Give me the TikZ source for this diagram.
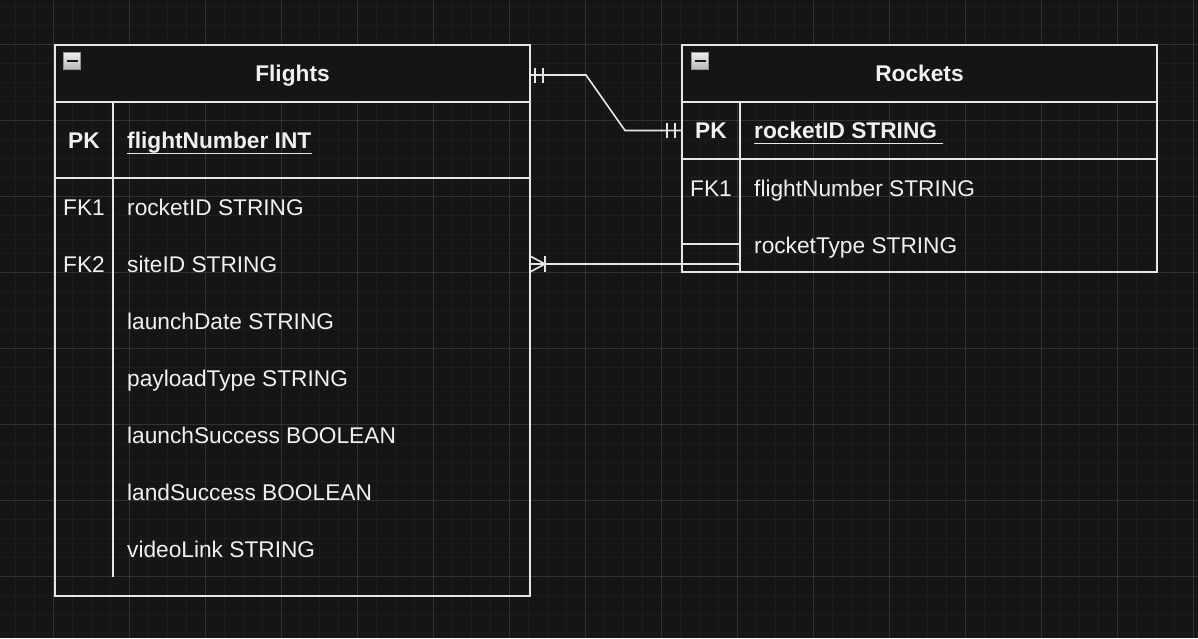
\documentclass[tikz,border=0pt]{standalone}
\usepackage{fontspec}
\setmainfont{Liberation Sans}
\definecolor{bg}{HTML}{151515}
\definecolor{minorg}{HTML}{1D1D1D}
\definecolor{majorg}{HTML}{333333}
\definecolor{ln}{HTML}{E6E6E6}
\definecolor{tx}{HTML}{F0F0F0}
\definecolor{iconb}{HTML}{8A96A6}
\begin{document}
\begin{tikzpicture}[x=1pt,y=-1pt,
  tbl/.style={draw=ln, line width=1.6pt, anchor=north west, inner sep=0pt, outer sep=0pt, rectangle},
  hdr/.style={fill=bg, anchor=north west, inner sep=0pt, outer sep=0pt, minimum width=475pt, minimum height=57pt},
  txt/.style={text=tx, font=\fontsize{22.7}{27}\selectfont, inner sep=0pt, anchor=base west},
  btxt/.style={txt, font=\fontsize{22.7}{27}\selectfont\bfseries},
  key/.style={txt, anchor=base},
  bkey/.style={btxt, anchor=base},
  rule/.style={draw=ln, line width=1.6pt},
  conn/.style={draw=ln, line width=1.6pt},
  icon/.style={draw=iconb, line width=1pt, top color=white!93!black, bottom color=black!28, minimum size=17.5pt, inner sep=0pt},
  iconbar/.style={draw=black!90, line width=2pt},
]
\useasboundingbox (0,0) rectangle (1198,638);
% background and grid
\fill[bg] (0,0) rectangle (1198,638);
\foreach \x in {15,34,...,1198} \draw[minorg, line width=1pt] (\x,0) -- (\x,638);
\foreach \y in {6,25,...,638} \draw[minorg, line width=1pt] (0,\y) -- (1198,\y);
\foreach \x in {53,129,...,1198} \draw[majorg, line width=1pt] (\x,0) -- (\x,638);
\foreach \y in {44,120,...,638} \draw[majorg, line width=1pt] (0,\y) -- (1198,\y);

% Flights table
\node[hdr] (fh) at (55,45) {};
\node[tbl, minimum width=475pt, minimum height=551pt] (flights) at (55,45) {};
\draw[rule] (55,102) -- (530,102);
\draw[rule] (55,178) -- (530,178);
\draw[rule] (113,102) -- (113,577);
\node[icon] (ficon) at (72,61) {};
\draw[iconbar] ([xshift=-5.5pt]ficon.center) -- ([xshift=5.5pt]ficon.center);
\node[bkey] (ftitle) at (292.5,81.5) {Flights};
\node[bkey] (fpk) at (84,148.5) {PK};
\node[btxt] (ffn) at (127,148.5) {flightNumber INT};
\draw[rule, line width=1.5pt] ([yshift=-5pt]ffn.base west) -- ([yshift=-5pt]ffn.base east);
\node[key] (ffk1) at (84,215) {FK1};
\node[key] (ffk2) at (84,272) {FK2};
\node[txt] (f1) at (127,215) {rocketID STRING};
\node[txt] (f2) at (127,272) {siteID STRING};
\node[txt] (f3) at (127,329) {launchDate STRING};
\node[txt] (f4) at (127,386) {payloadType STRING};
\node[txt] (f5) at (127,443) {launchSuccess BOOLEAN};
\node[txt] (f6) at (127,500) {landSuccess BOOLEAN};
\node[txt] (f7) at (127,557) {videoLink STRING};

% Rockets table
\node[hdr] (rh) at (682,45) {};
\node[tbl, minimum width=475pt, minimum height=227pt] (rockets) at (682,45) {};
\draw[rule] (682,102) -- (1157,102);
\draw[rule] (682,159) -- (1157,159);
\draw[rule] (740,102) -- (740,272);
\draw[rule] (682,244) -- (740,244);
\node[icon] (ricon) at (700,61) {};
\draw[iconbar] ([xshift=-5.5pt]ricon.center) -- ([xshift=5.5pt]ricon.center);
\node[bkey] (rtitle) at (919.5,81.5) {Rockets};
\node[bkey] (rpk) at (711,138.5) {PK};
\node[btxt] (rid) at (754,138.5) {rocketID STRING\kern6pt};
\draw[rule, line width=1.5pt] ([yshift=-5pt]rid.base west) -- ([yshift=-5pt]rid.base east);
\node[key] (rfk1) at (711,196) {FK1};
\node[txt] (r1) at (754,196) {flightNumber STRING};
\node[txt] (r2) at (754,253) {rocketType STRING};

% connector 1: one-to-one (mandatory)
\coordinate (c1a) at (530,75);
\coordinate (c1b) at (682,130.5);
\draw[conn] (c1a) -- (586,75) -- (625,130.5) -- (c1b);
\draw[conn] (c1a) ++(5,-7.5) -- ++(0,15);
\draw[conn] (c1a) ++(13,-7.5) -- ++(0,15);
\draw[conn] (c1b) ++(-7,-7.5) -- ++(0,15);
\draw[conn] (c1b) ++(-15,-7.5) -- ++(0,15);

% connector 2: one-to-many
\coordinate (c2a) at (530,264);
\coordinate (c2b) at (740,264);
\draw[conn] (c2a) -- (c2b);
\draw[conn] (c2a) ++(0,-8) -- ++(15,8) -- ++(-15,8);
\draw[conn] (c2a) ++(15,-8) -- ++(0,16);
\end{tikzpicture}
\end{document}
